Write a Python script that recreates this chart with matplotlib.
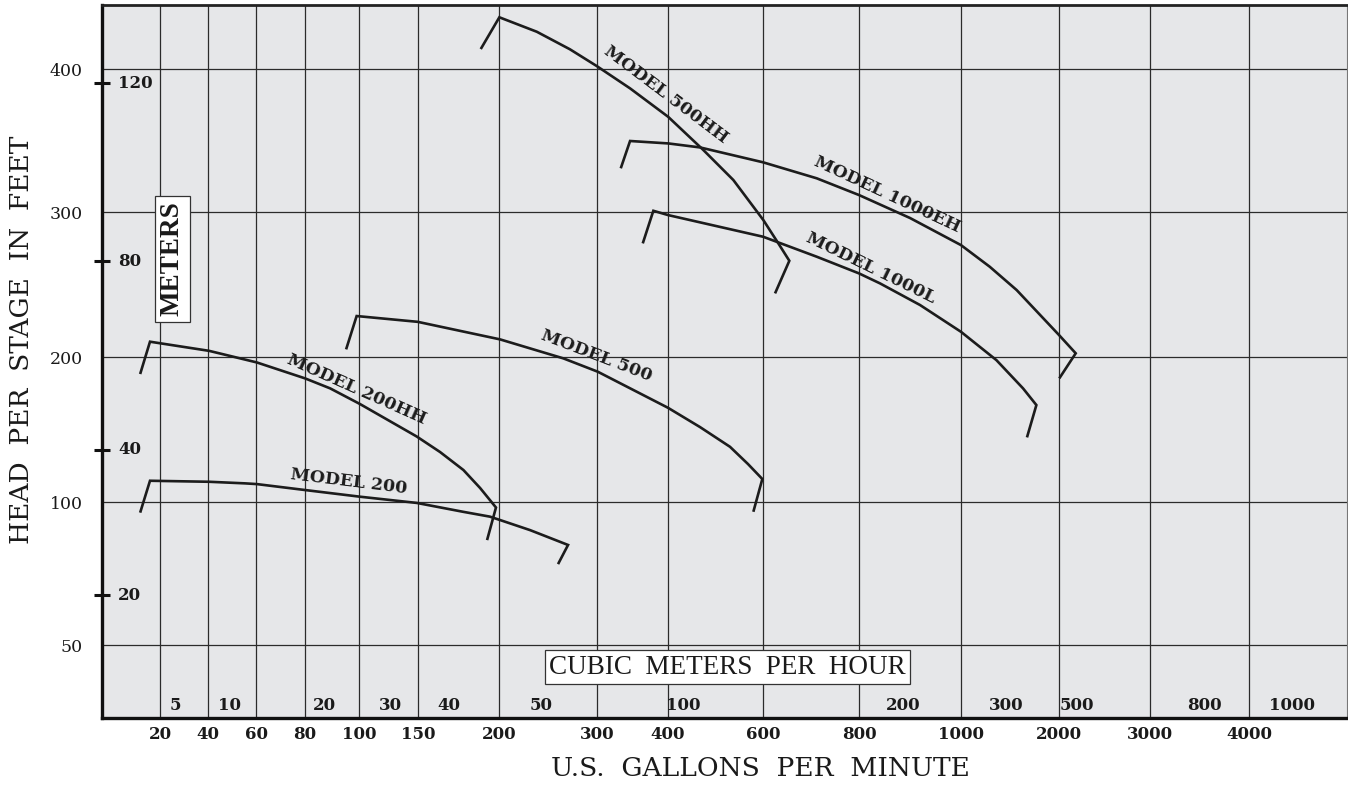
import numpy as np
import matplotlib.pyplot as plt

plt.rcParams['font.family'] = ['DejaVu Serif']

# 横轴：美制加仑/分钟 刻度（非均匀间距）
gpm_ticks = [20, 40, 60, 80, 100, 150, 200, 300, 400, 600, 800, 1000, 2000, 3000, 4000]
# 纵轴：英尺刻度
feet_ticks = [50, 100, 200, 300, 400]
# 米刻度（标在左轴内侧），对应的英尺位置
meter_labels = ['20', '40', '80', '120']
meter_feet = [67.5, 136, 266, 390]
# 立方米/小时 标注
cmh_labels = ['5', '10', '20', '30', '40', '50', '100', '200', '300', '500', '800', '1000']
cmh_gpm = [26.3, 48.8, 87, 126.3, 169.1, 243.4, 431.6, 886.3, 1459, 2192, 3545, 4439]

# 各型号曲线 (gpm, feet)
m200_gpm = [11.7, 15.8, 40.4, 55.4, 60.3, 80, 100.8, 148.9, 177.8, 194.4, 231.6, 270.4, 260.2]
m200_ft = [96.3, 114.7, 114.0, 112.9, 112.4, 108.3, 103.7, 99.7, 96.6, 94.9, 90.2, 85.0, 78.3]

m200hh_gpm = [11.7, 15.8, 40.4, 60.3, 80, 89.3, 100.8, 148.9, 163.6, 178.0, 188.3, 198.1, 192.6]
m200hh_ft = [188.3, 210.6, 204.3, 196.3, 185.3, 178.4, 167.6, 145.2, 134.5, 122.1, 109.7, 98.1, 86.7]

m500_gpm = [95.2, 99.1, 149.7, 201, 265.6, 301, 400, 467.4, 530.5, 568.4, 598.5, 579.6]
m500_ft = [205.3, 228.3, 224.3, 212.2, 199.1, 189.9, 165.0, 151.7, 138.1, 126.2, 115.9, 96.6]

m500hh_gpm = [188.7, 200.3, 238.5, 272.4, 299.7, 346.5, 400.3, 474.3, 537.5, 600.6, 631.9, 654.8, 625]
m500hh_ft = [414.0, 436.2, 426.1, 413.8, 402.1, 386.5, 366.6, 343.4, 322.4, 294.5, 278.4, 266.4, 243.9]

m1000eh_gpm = [333.4, 346.5, 400.4, 467.4, 600, 711.9, 800, 900, 1000, 1293, 1568, 2000, 2183.5, 2003]
m1000eh_ft = [330.6, 349.7, 348.0, 345.2, 334.8, 323.6, 311.9, 295.9, 277.2, 262.3, 246.2, 215.2, 202.6, 185.3]

m1000l_gpm = [364.4, 379.3, 400.4, 600, 711.9, 800, 841.2, 919.6, 1000, 1361, 1633, 1769, 1673]
m1000l_ft = [278.4, 300.9, 297.9, 283.0, 269.2, 257.7, 250.8, 235.9, 217.4, 197.9, 178.4, 166.9, 144.6]

curves = [(m200_gpm, m200_ft), (m200hh_gpm, m200hh_ft), (m500_gpm, m500_ft),
          (m500hh_gpm, m500hh_ft), (m1000eh_gpm, m1000eh_ft), (m1000l_gpm, m1000l_ft)]

label_names = ['MODEL 200', 'MODEL 200HH', 'MODEL 500', 'MODEL 500HH', 'MODEL 1000EH', 'MODEL 1000L']
label_gpm = [96.3, 98.9, 299, 397.2, 854.9, 823.5]
label_ft = [113.8, 177.9, 200.7, 381.8, 311.9, 261.4]
label_rot = [-7, -24, -21, -37, -25, -26]

# 非均匀坐标轴的间距定义
gpm_knots = [-20, 0] + gpm_ticks + [5000]
gpm_pos = [64, 112, 160, 208, 256, 305, 359, 418, 499, 597, 668, 763, 859, 961, 1059, 1150, 1249, 1347]
feet_knots = [0] + feet_ticks + [500]
feet_pos = [-143, 0, 143, 288, 433, 576, 719]


def xf(v):
    return np.interp(v, gpm_knots, gpm_pos)


def xi(v):
    return np.interp(v, gpm_pos, gpm_knots)


def yf(v):
    return np.interp(v, feet_knots, feet_pos)


def yi(v):
    return np.interp(v, feet_pos, feet_knots)


fig = plt.figure(figsize=(13.48, 7.86), dpi=100)
ax = fig.add_axes([102 / 1348, 68 / 786, 1245 / 1348, 713 / 786])
ax.set_facecolor('#e6e7e9')
ax.set_xscale('function', functions=(xf, xi))
ax.set_yscale('function', functions=(yf, yi))
ax.set_xlim(-4.2, 5000)
ax.set_ylim(24.5, 444.8)

ax.set_xticks(gpm_ticks)
ax.set_xticklabels([str(v) for v in gpm_ticks], fontweight='bold', fontsize=12)
ax.set_yticks(feet_ticks)
ax.set_yticklabels([str(v) for v in feet_ticks], fontsize=12.5)
ax.set_yticks(meter_feet, minor=True)
ax.set_xticks([], minor=True)
ax.tick_params(axis='x', which='major', length=0, pad=6, colors='#1a1a1a')
ax.tick_params(axis='y', which='major', length=0, pad=14, colors='#1a1a1a')
ax.tick_params(axis='y', which='minor', length=11.5, width=2.2, direction='inout', color='#111111')
ax.grid(True, which='major', color='#2b2b2b', lw=0.9)
ax.set_axisbelow(True)

ax.spines['left'].set_linewidth(2.4)
ax.spines['left'].set_color('#111111')
ax.spines['bottom'].set_linewidth(2.4)
ax.spines['bottom'].set_color('#111111')
ax.spines['top'].set_linewidth(2.0)
ax.spines['top'].set_color('#222222')
ax.spines['right'].set_linewidth(0.8)
ax.spines['right'].set_color('#777777')

for g, f in curves:
    ax.plot(g, f, color='#1c1c1c', lw=1.9, solid_joinstyle='miter', solid_capstyle='butt')

for name, g, f, r in zip(label_names, label_gpm, label_ft, label_rot):
    ax.text(g, f, name, rotation=r, rotation_mode='anchor', ha='center', va='center',
            fontsize=12.5, fontweight='bold', color='#1c1c1c')

for lab, f in zip(meter_labels, meter_feet):
    ax.text(0.013, f, lab, transform=ax.get_yaxis_transform(), ha='left', va='center',
            fontsize=12, fontweight='bold', color='#1a1a1a')

for lab, g in zip(cmh_labels, cmh_gpm):
    ax.text(g, 0.011, lab, transform=ax.get_xaxis_transform(), ha='center', va='baseline',
            fontsize=12, fontweight='bold', color='#1a1a1a')

ax.text(0.5024, 0.0715, 'CUBIC  METERS  PER  HOUR', transform=ax.transAxes, ha='center', va='center',
        family='Liberation Serif', fontsize=19.5, color='#1a1a1a',
        bbox=dict(boxstyle='square,pad=0.15', facecolor='white', edgecolor='#333333', lw=0.9))
ax.text(0.0566, 0.6438, 'METERS', transform=ax.transAxes, ha='center', va='center', rotation=90,
        family='Liberation Serif', fontweight='bold', fontsize=19.5, color='#1a1a1a',
        bbox=dict(boxstyle='square,pad=0.2', facecolor='white', edgecolor='#333333', lw=0.9))

fig.text(22 / 1348, 1 - 340 / 786, 'HEAD  PER  STAGE  IN  FEET', rotation=90, ha='center', va='center',
         fontsize=19, color='#1a1a1a')
fig.text(760 / 1348, 1 - 768.5 / 786, 'U.S.  GALLONS  PER  MINUTE', ha='center', va='center',
         fontsize=19, color='#1a1a1a')

fig.savefig('out.png', dpi=100, facecolor='white')
